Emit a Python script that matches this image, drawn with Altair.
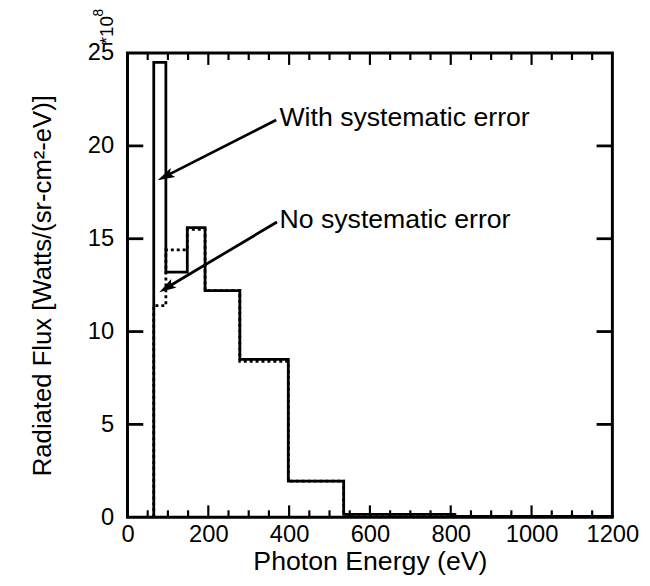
import altair as alt
import pandas as pd

# ---- data ----
edges = [65, 95, 148, 192, 278, 398, 535, 810, 1200]
with_err = [24.5, 13.2, 15.6, 12.2, 8.5, 1.95, 0.15, 0.05]
no_err = [11.4, 14.4, 15.5, 12.2, 8.4, 1.95, 0.15, 0.05]

x_labels = [0, 200, 400, 600, 800, 1000, 1200]
y_labels = [0, 5, 10, 15, 20, 25]
x_major_ticks = [200, 400, 600, 800, 1000]
x_minor_ticks = [50, 100, 150, 250, 300, 350, 450, 500, 550, 650, 700, 750,
                 850, 900, 950, 1050, 1100, 1150]
y_major_ticks = [5, 10, 15, 20]

ann_text = ["With systematic error", "No systematic error"]
ann_text_x = [376, 376]
ann_text_y = [21.5, 16.0]
arrow_x0 = [368, 370]
arrow_y0 = [21.4, 15.9]
arrow_x1 = [97, 100]
arrow_y1 = [18.4, 12.4]
arrow_angle = [243, 238]

W, H = 491, 470
FONT = "Liberation Sans"


def step_vertices(e, v):
    pts = [(e[0], 0.0)]
    for i, val in enumerate(v):
        pts.append((e[i], val))
        pts.append((e[i + 1], val))
    pts.append((e[-1], 0.0))
    return pts


rows = []
for name, vals in [("with", with_err), ("no", no_err)]:
    for k, (xx, yy) in enumerate(step_vertices(edges, vals)):
        rows.append({"series": name, "order": k, "E": xx, "F": yy})
steps = pd.DataFrame(rows)

xs = alt.Scale(domain=[0, 1200], nice=False, zero=False)
ys = alt.Scale(domain=[0, 25], nice=False, zero=False)

base_axes = alt.Chart(pd.DataFrame({"E": [0], "F": [0]})).mark_point(opacity=0).encode(
    x=alt.X("E:Q", scale=xs,
            axis=alt.Axis(values=x_labels, title="Photon Energy (eV)", format="d",
                          labelPadding=6, titlePadding=2, tickSize=0, labelFlush=False,
                          titleFontSize=27)),
    y=alt.Y("F:Q", scale=ys,
            axis=alt.Axis(values=y_labels, title="Radiated Flux  [Watts/(sr-cm²-eV)]",
                          labelPadding=14, titlePadding=32, tickSize=0,
                          titleFontSize=26)),
)

dotted = alt.Chart(steps[steps.series == "no"]).mark_line(
    color="black", strokeWidth=2.8, strokeDash=[3, 3]
).encode(x=alt.X("E:Q", scale=xs), y=alt.Y("F:Q", scale=ys), order="order:Q")

solid = alt.Chart(steps[steps.series == "with"]).mark_line(
    color="black", strokeWidth=2.8
).encode(x=alt.X("E:Q", scale=xs), y=alt.Y("F:Q", scale=ys), order="order:Q")

xmaj = pd.DataFrame({"v": x_major_ticks})
xmin = pd.DataFrame({"v": x_minor_ticks})
ymaj = pd.DataFrame({"v": y_major_ticks})

tick_layers = [
    alt.Chart(xmaj).mark_rule(color="black", strokeWidth=2.2).encode(
        x=alt.X("v:Q", scale=xs), y=alt.value(H), y2=alt.value(H - 12)),
    alt.Chart(xmin).mark_rule(color="black", strokeWidth=2.2).encode(
        x=alt.X("v:Q", scale=xs), y=alt.value(H), y2=alt.value(H - 7)),
    alt.Chart(xmaj).mark_rule(color="black", strokeWidth=2.2).encode(
        x=alt.X("v:Q", scale=xs), y=alt.value(0), y2=alt.value(12)),
    alt.Chart(xmin).mark_rule(color="black", strokeWidth=2.2).encode(
        x=alt.X("v:Q", scale=xs), y=alt.value(0), y2=alt.value(7)),
    alt.Chart(ymaj).mark_rule(color="black", strokeWidth=2.8).encode(
        y=alt.Y("v:Q", scale=ys), x=alt.value(0), x2=alt.value(16)),
    alt.Chart(ymaj).mark_rule(color="black", strokeWidth=2.8).encode(
        y=alt.Y("v:Q", scale=ys), x=alt.value(W), x2=alt.value(W - 16)),
]

ann = pd.DataFrame({
    "t": ann_text, "tx": ann_text_x, "ty": ann_text_y,
    "x0": arrow_x0, "y0": arrow_y0, "x1": arrow_x1, "y1": arrow_y1,
    "ang": arrow_angle,
})

ann_text_layer = alt.Chart(ann).mark_text(
    align="left", baseline="middle", font=FONT, fontSize=27, color="black"
).encode(x=alt.X("tx:Q", scale=xs), y=alt.Y("ty:Q", scale=ys), text="t:N")

arrow_lines = alt.Chart(ann).mark_rule(color="black", strokeWidth=2.8).encode(
    x=alt.X("x0:Q", scale=xs), y=alt.Y("y0:Q", scale=ys),
    x2="x1:Q", y2="y1:Q")

arrow_heads = alt.Chart(ann).mark_point(
    shape="M 0 -1 L 0.5 0.7 L 0 0.35 L -0.5 0.7 Z",
    filled=True, color="black", size=420, opacity=1
).encode(x=alt.X("x1:Q", scale=xs), y=alt.Y("y1:Q", scale=ys),
         angle=alt.Angle("ang:Q", scale=None))

exp_df = pd.DataFrame({"a": [0]})
exp_base = alt.Chart(exp_df).mark_text(
    align="left", baseline="middle", angle=270, font=FONT, fontSize=19, color="black"
).encode(x=alt.value(-21), y=alt.value(-9), text=alt.value("*10"))
exp_sup = alt.Chart(exp_df).mark_text(
    align="left", baseline="middle", angle=270, font=FONT, fontSize=14, color="black"
).encode(x=alt.value(-29), y=alt.value(-37), text=alt.value("8"))

chart = alt.layer(
    base_axes, dotted, solid, *tick_layers, arrow_lines, arrow_heads,
    ann_text_layer, exp_base, exp_sup
).properties(
    width=W, height=H,
    autosize=alt.AutoSizeParams(type="none"),
    padding={"left": 121, "top": 42, "right": 30, "bottom": 66},
    background="white",
).configure_view(
    stroke="black", strokeWidth=3
).configure_axis(
    labelFont=FONT, titleFont=FONT, labelFontSize=24,
    titleFontWeight="normal", labelColor="black", titleColor="black",
    grid=False, domain=False, ticks=False,
)

chart.save("out.html", embed_options={"renderer": "svg", "actions": False})
